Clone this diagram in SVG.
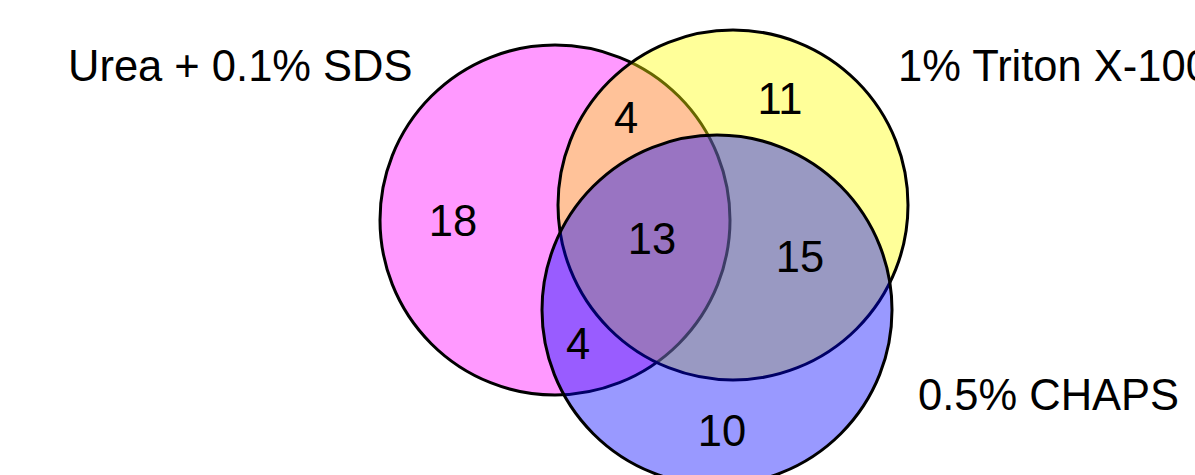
<svg xmlns="http://www.w3.org/2000/svg" width="1195" height="475" viewBox="0 0 1195 475">
<style>
.set{stroke:#000;stroke-width:3;fill-opacity:0.4}
text{font-family:"Liberation Sans",Arial,sans-serif;font-size:43.5px;fill:#000}
.n{text-anchor:middle}
</style>
<rect width="1195" height="475" fill="#fff"/>
<g id="set-urea"><circle class="set" cx="555" cy="220" r="175" fill="#FF00FF"/></g>
<g id="set-triton"><circle class="set" cx="733" cy="205" r="175" fill="#FFFF00"/></g>
<g id="set-chaps"><circle class="set" cx="717" cy="310" r="175" fill="#0000FF"/></g>
<g id="labels">
<text x="68" y="81">Urea + 0.1% SDS</text>
<text x="898" y="81">1% Triton X-100</text>
<text x="918" y="410">0.5% CHAPS</text>
</g>
<g id="counts">
<text class="n" x="453" y="236">18</text>
<text class="n" x="626" y="133">4</text>
<text class="n" x="780" y="114">11</text>
<text class="n" x="652" y="254">13</text>
<text class="n" x="800" y="272">15</text>
<text class="n" x="578" y="359">4</text>
<text class="n" x="722" y="446">10</text>
</g>
<g id="connectors"></g>
</svg>
